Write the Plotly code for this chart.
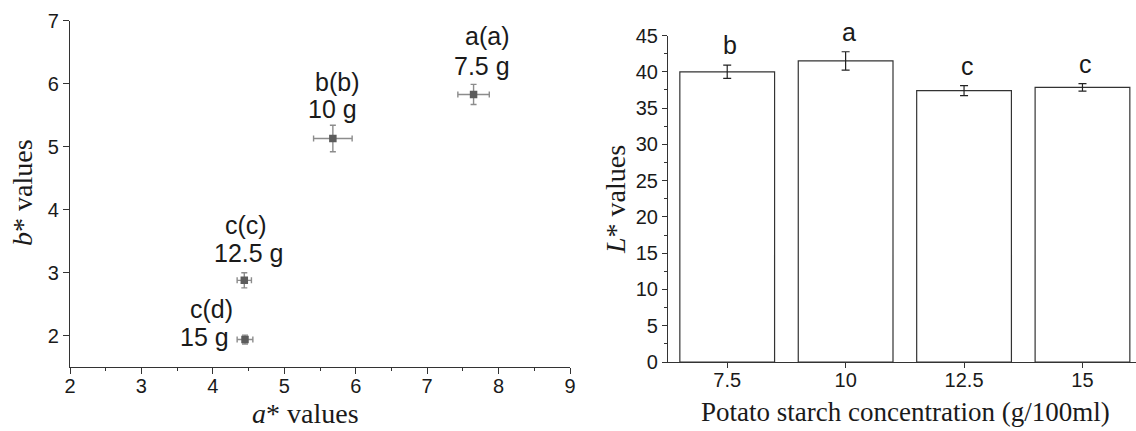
import plotly.graph_objects as go

# ---- data: left panel (a* vs b*) ----
conc_labels = ["7.5 g", "10 g", "12.5 g", "15 g"]
sig_labels = ["a(a)", "b(b)", "c(c)", "c(d)"]
a_values = [7.65, 5.68, 4.44, 4.45]
a_err = [0.22, 0.27, 0.10, 0.11]
b_values = [5.83, 5.13, 2.88, 1.94]
b_err = [0.16, 0.21, 0.12, 0.07]

# ---- data: right panel (L* bars) ----
categories = ["7.5", "10", "12.5", "15"]
L_values = [40.0, 41.5, 37.4, 37.85]
L_err = [0.92, 1.26, 0.69, 0.53]
L_letters = ["b", "a", "c", "c"]

W, H = 1136, 431
SANS = "Liberation Sans, Arial, sans-serif"
SERIF = "Liberation Serif, Times New Roman, serif"
AX = "#333333"
TXT = "#1a1a1a"

fig = go.Figure()

fig.add_trace(go.Scatter(
    x=a_values, y=b_values, mode="markers",
    marker=dict(symbol="square", size=7.5, color="#5c5c5c"),
    error_x=dict(type="data", array=a_err, color="#8c8c8c", thickness=1.4, width=3),
    error_y=dict(type="data", array=b_err, color="#8c8c8c", thickness=1.4, width=3),
    xaxis="x", yaxis="y", showlegend=False, hoverinfo="x+y"))

fig.add_trace(go.Bar(
    x=categories, y=L_values, width=0.8,
    marker=dict(color="white", line=dict(color="#333333", width=1.2)),
    error_y=dict(type="data", array=L_err, color="#222222", thickness=1.2, width=4),
    xaxis="x2", yaxis="y2", showlegend=False))

annotations = []
# labels around scatter points (offsets in pixels from each point)
sig_shift = [(13, 58), (4, 57), (1.5, 55), (-34, 31)]
conc_shift = [(8, 28.5), (0, 30), (4.5, 27), (-41, 3)]
for i in range(len(a_values)):
    annotations.append(dict(x=a_values[i], y=b_values[i], xref="x", yref="y",
                            text=sig_labels[i], showarrow=False,
                            xanchor="center", yanchor="middle",
                            xshift=sig_shift[i][0], yshift=sig_shift[i][1],
                            font=dict(family=SANS, size=25, color=TXT)))
    annotations.append(dict(x=a_values[i], y=b_values[i], xref="x", yref="y",
                            text=conc_labels[i], showarrow=False,
                            xanchor="center", yanchor="middle",
                            xshift=conc_shift[i][0], yshift=conc_shift[i][1],
                            font=dict(family=SANS, size=25, color=TXT)))

# significance letters above bars (category index positions)
for i in range(len(categories)):
    annotations.append(dict(x=i, y=L_values[i] + L_err[i], xref="x2", yref="y2",
                            text=L_letters[i], showarrow=False,
                            xanchor="center", yanchor="middle", xshift=3, yshift=20,
                            font=dict(family=SANS, size=25, color=TXT)))

# axis titles
title_common = dict(xref="paper", yref="paper", showarrow=False,
                    xanchor="center", yanchor="middle")
annotations += [
    dict(x=23 / W, y=1 - 193 / H, text="<i>b</i>* values", textangle=-90,
         font=dict(family=SERIF, size=28, color=TXT), **title_common),
    dict(x=306 / W, y=1 - 413 / H, text="<i>a</i>* values",
         font=dict(family=SERIF, size=28, color=TXT), **title_common),
    dict(x=615 / W, y=1 - 200 / H, text="<i>L</i>* values", textangle=-90,
         font=dict(family=SERIF, size=28, color=TXT), **title_common),
    dict(x=905 / W, y=1 - 412 / H, text="Potato starch concentration (g/100ml)",
         font=dict(family=SERIF, size=27, color=TXT), **title_common),
]

tickfont = dict(family=SANS, size=20, color=TXT)
common = dict(showgrid=False, zeroline=False, showline=True, linecolor=AX, linewidth=1.2,
              ticks="outside", tickcolor=AX, tickwidth=1.2, tickfont=tickfont,
              automargin=False)

fig.update_layout(
    width=W, height=H,
    margin=dict(l=0, r=0, t=0, b=0, autoexpand=False),
    paper_bgcolor="white", plot_bgcolor="white",
    annotations=annotations,
    xaxis=dict(domain=[70 / W, 570 / W], anchor="y", range=[2, 9], dtick=1, ticklen=6,
               ticklabelstandoff=-5,
               minor=dict(dtick=0.5, ticks="outside", ticklen=3, tickcolor=AX, tickwidth=1.2),
               **common),
    yaxis=dict(domain=[1 - 367.3 / H, 1 - 20.7 / H], anchor="x", range=[1.5, 7],
               tickvals=[2, 3, 4, 5, 6, 7], ticklen=6, **common),
    xaxis2=dict(domain=[668 / W, 1.0], anchor="y2", type="category", range=[-0.5, 3.452],
                ticklen=5, ticklabelstandoff=-5, **common),
    yaxis2=dict(domain=[1 - 362 / H, 1 - 35.5 / H], anchor="x2", range=[0, 45], dtick=5,
                ticklen=5,
                minor=dict(dtick=2.5, ticks="outside", ticklen=2.5, tickcolor=AX, tickwidth=1.2),
                **common),
)

fig.write_html("out.html")
